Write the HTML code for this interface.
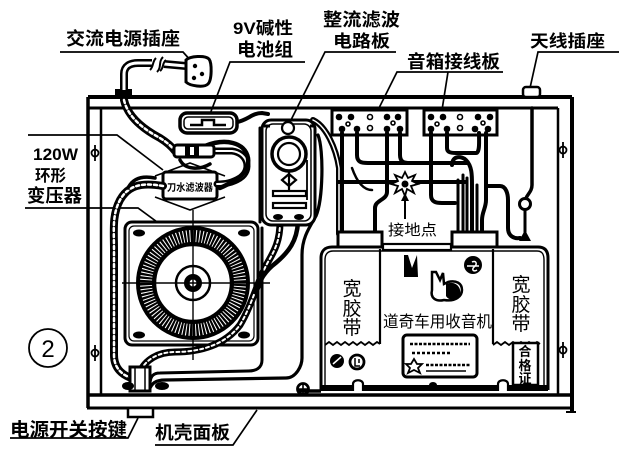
<!DOCTYPE html>
<html><head><meta charset="utf-8">
<style>
html,body{margin:0;padding:0;background:#fff;}
svg{display:block;}
text{font-family:"Liberation Sans","Noto Sans CJK SC",sans-serif;font-weight:bold;fill:#000;}
</style></head>
<body>
<svg width="619" height="454" viewBox="0 0 619 454" xmlns="http://www.w3.org/2000/svg">
<rect width="619" height="454" fill="#fff"/>

<!-- ===== Labels ===== -->
<text x="66" y="45" font-size="18" textLength="114" lengthAdjust="spacingAndGlyphs">交流电源插座</text>
<text x="233" y="34" font-size="17" textLength="60" lengthAdjust="spacingAndGlyphs">9V碱性</text>
<text x="237" y="56" font-size="18" textLength="56" lengthAdjust="spacingAndGlyphs">电池组</text>
<text x="323" y="26" font-size="18" textLength="77" lengthAdjust="spacingAndGlyphs">整流滤波</text>
<text x="333" y="47" font-size="17" textLength="57" lengthAdjust="spacingAndGlyphs">电路板</text>
<text x="407" y="68" font-size="18" textLength="93" lengthAdjust="spacingAndGlyphs">音箱接线板</text>
<text x="530" y="47" font-size="17" textLength="75" lengthAdjust="spacingAndGlyphs">天线插座</text>
<text x="33" y="160" font-size="17" textLength="45" lengthAdjust="spacingAndGlyphs">120W</text>
<text x="35" y="181" font-size="16" textLength="31" lengthAdjust="spacingAndGlyphs">环形</text>
<text x="27" y="202" font-size="18" textLength="55" lengthAdjust="spacingAndGlyphs">变压器</text>
<text x="10" y="436" font-size="19" textLength="117" lengthAdjust="spacingAndGlyphs">电源开关按键</text>
<text x="155" y="439" font-size="18" textLength="75" lengthAdjust="spacingAndGlyphs">机壳面板</text>

<!-- ② -->
<circle cx="48" cy="348" r="19" fill="none" stroke="#000" stroke-width="1.8"/>
<text x="48" y="357" font-size="24" text-anchor="middle" style="font-weight:normal">2</text>

<!-- ===== Leader lines ===== -->
<g fill="none" stroke="#000" stroke-width="1.7">
  <path d="M60,52 L183,52 L192,62"/>
  <path d="M305,62 L230,62 L210,114"/>
  <path d="M396,52 L325,52 L290,122"/>
  <path d="M503,72 L397,72 L378,110"/>
  <path d="M448,72 L442,110"/>
  <path d="M619,52 L538,52 L530,88"/>
  <path d="M28,135 L117,135 L163,170"/>
  <path d="M25,208 L138,208 L168,230"/>
  <path d="M10,438 L128,438 L138,418"/>
  <path d="M155,445 L233,445 L257,410"/>
</g>

<!-- ===== Plug & cord ===== -->
<rect x="115" y="89" width="17" height="8" fill="#000"/>
<path d="M124,90 L124,74 C124,66 130,63 138,63 L152,63" fill="none" stroke="#000" stroke-width="8"/>
<path d="M124,90 L124,74 C124,66 130,63 138,63 L152,63" fill="none" stroke="#fff" stroke-width="3"/>
<path d="M164,64 L186,66" fill="none" stroke="#000" stroke-width="8"/>
<path d="M164,64 L186,66" fill="none" stroke="#fff" stroke-width="3"/>
<path d="M150,70 C154,66 152,62 156,58 M157,72 C162,67 158,62 163,57 M160,71 C164,68 162,63 166,60" fill="none" stroke="#000" stroke-width="2"/>
<path d="M186,60 C190,56 205,55 209,59 C212,63 212,80 208,84 C204,88 190,86 186,82 Z" fill="#fff" stroke="#000" stroke-width="3"/>
<circle cx="195" cy="66" r="2.2" fill="#000"/><circle cx="202" cy="74" r="2.2" fill="#000"/><circle cx="194" cy="78" r="2.2" fill="#000"/>

<!-- ===== Chassis frame ===== -->
<g fill="none" stroke="#000">
  <path d="M88,97 L572,97" stroke-width="4"/>
  <path d="M88,97 L88,408" stroke-width="3.5"/>
  <path d="M572,97 L572,412" stroke-width="4"/>
  <path d="M88,108 L558,108" stroke-width="3"/>
  <path d="M101,108 L101,395" stroke-width="2.5"/>
  <path d="M558,108 L558,395" stroke-width="2.5"/>
  <path d="M88,395 L572,395" stroke-width="3.5"/>
  <path d="M87,408 L572,408" stroke-width="3"/>
  <path d="M566,412 L576,412" stroke-width="2"/>
</g>
<!-- antenna socket -->
<rect x="523" y="87" width="17" height="10" rx="3" fill="#fff" stroke="#000" stroke-width="2.5"/>
<!-- switch button below panel -->
<rect x="128" y="408" width="25" height="9" fill="#fff" stroke="#000" stroke-width="2.5"/>
<!-- bolts on side -->
<g stroke="#000" stroke-width="1.8" fill="#fff">
  <circle cx="95" cy="153" r="3.5"/><path d="M95,145 L95,161"/>
  <circle cx="95" cy="353" r="3.5"/><path d="M95,345 L95,361"/>
  <circle cx="563" cy="150" r="3.5"/><path d="M563,142 L563,158"/>
  <circle cx="563" cy="350" r="3.5"/><path d="M563,342 L563,358"/>
</g>

<!-- ===== Transformer ===== -->
<rect x="125" y="222" width="133" height="123" rx="7" fill="#fff" stroke="#000" stroke-width="3"/>
<rect x="129" y="226" width="125" height="115" rx="5" fill="none" stroke="#000" stroke-width="1.2"/>
<g fill="#000">
  <ellipse cx="139" cy="233" rx="6" ry="3.5"/><ellipse cx="244" cy="233" rx="6" ry="3.5"/>
  <ellipse cx="139" cy="335" rx="6" ry="3.5"/><ellipse cx="244" cy="335" rx="6" ry="3.5"/>
</g>
<circle cx="193" cy="283" r="47" fill="none" stroke="#000" stroke-width="20"/>
<circle cx="193" cy="283" r="47" fill="none" stroke="#fff" stroke-width="12" stroke-dasharray="1 2.2"/>
<circle cx="193" cy="283" r="38" fill="#fff" stroke="#000" stroke-width="2.5"/>
<circle cx="193" cy="283" r="17" fill="none" stroke="#000" stroke-width="2.5"/>
<circle cx="193" cy="283" r="9" fill="#000"/>
<circle cx="193" cy="283" r="3.5" fill="#fff"/>
<path d="M122,283 L270,283 M193,210 L193,360" stroke="#000" stroke-width="1.4" fill="none"/>

<!-- ===== Filter box ===== -->
<path d="M155,176 L190,163 L225,176 M155,197 L190,210 L225,197" fill="none" stroke="#000" stroke-width="1.6"/>
<rect x="163" y="172" width="54" height="27" rx="3" fill="#fff" stroke="#000" stroke-width="3"/>
<text x="190" y="191" font-size="10" text-anchor="middle" textLength="46" lengthAdjust="spacingAndGlyphs">刀水滤波器</text>

<!-- ===== Wires left section ===== -->
<g fill="none" stroke="#000" stroke-linecap="round">
  <path d="M124,100 C128,118 145,130 160,138 C168,143 172,147 175,151" stroke-width="8"/>
  <path d="M124,100 C128,118 145,130 160,138 C168,143 172,147 175,151" stroke="#fff" stroke-width="2.5" stroke-dasharray="3 3"/>
  <path d="M214,151 L232,151 C248,153 252,170 240,178 C232,183 225,184 217,184" stroke-width="7"/>
  <path d="M214,151 L232,151 C248,153 252,170 240,178 C232,183 225,184 217,184" stroke="#fff" stroke-width="2"/>
  <path d="M205,146 C225,138 245,142 248,158 C250,172 238,180 220,188" stroke-width="4.5"/>
  <path d="M180,160 C185,170 200,170 210,164" stroke-width="3.5"/>
  <path d="M237,122 C248,120 252,113 262,113 L268,114" stroke-width="4"/>
  <path d="M163,186 C140,182 128,186 120,200 C112,215 114,230 114,250 L114,355 C114,368 122,376 135,379" stroke-width="8"/>
  <path d="M163,186 C140,182 128,186 120,200 C112,215 114,230 114,250 L114,355 C114,368 122,376 135,379" stroke="#fff" stroke-width="2.5" stroke-dasharray="3 3"/>
  <path d="M155,178 C140,175 132,180 128,188" stroke-width="3.5"/>
  <path d="M280,222 C280,240 275,250 268,262 C258,280 252,305 240,325 C225,345 200,352 175,352 C158,352 145,360 140,372" stroke-width="7"/>
  <path d="M280,222 C280,240 275,250 268,262 C258,280 252,305 240,325 C225,345 200,352 175,352 C158,352 145,360 140,372" stroke="#fff" stroke-width="2" stroke-dasharray="3 3"/>
  <path d="M298,222 C297,240 290,252 272,266 C262,275 258,285 255,292" stroke-width="4.5"/>
  <path d="M262,228 L262,360 C262,368 256,371 248,371 L160,373 C152,373 150,378 150,384" stroke-width="3"/>
  <path d="M318,135 C324,150 323,200 316,216 C309,228 302,238 302,255 L302,358 C302,366 296,378 286,378 L165,380 C155,380 152,384 150,388" stroke-width="3.2"/>
  <path d="M313,120 C326,126 336,148 339,168 L339,234" stroke-width="6"/>
  <path d="M313,120 C326,126 336,148 339,168 L339,234" stroke="#fff" stroke-width="1.5"/>
  <path d="M260,128 L260,222" stroke-width="3"/>
</g>
<!-- fuse -->
<rect x="174" y="145" width="40" height="12" rx="3" fill="#fff" stroke="#000" stroke-width="3"/>
<rect x="185" y="145" width="14" height="12" fill="#000"/>
<rect x="190" y="147" width="4" height="8" fill="#fff"/>
<!-- battery holder -->
<rect x="180" y="113" width="57" height="20" rx="7" fill="#fff" stroke="#000" stroke-width="3.5"/>
<rect x="184" y="117" width="49" height="12" rx="4" fill="none" stroke="#000" stroke-width="1.5"/>
<path d="M190,125 L202,125 L202,120 L214,120 L214,125 L226,125" fill="none" stroke="#000" stroke-width="2.5"/>

<!-- switch -->
<rect x="130" y="367" width="20" height="24" fill="#fff" stroke="#000" stroke-width="3"/>
<path d="M135,367 L135,391 M145,367 L145,391" stroke="#000" stroke-width="1.5"/>
<ellipse cx="128" cy="386" rx="6" ry="4" fill="#000"/>
<ellipse cx="162" cy="386" rx="7" ry="4" fill="#000"/>

<!-- ===== Rectifier board ===== -->
<rect x="262" y="120" width="53" height="105" rx="9" fill="#fff" stroke="#000" stroke-width="3"/>
<rect x="266" y="124" width="45" height="97" rx="7" fill="none" stroke="#000" stroke-width="1.5"/>
<circle cx="288" cy="128" r="6" fill="#fff" stroke="#000" stroke-width="2.2"/>
<circle cx="289" cy="154" r="17" fill="none" stroke="#000" stroke-width="3.5"/>
<circle cx="289" cy="154" r="11" fill="#fff" stroke="#000" stroke-width="2.2"/>
<path d="M289,172 L289,190 M282,180 L289,174 L296,180 L289,186 Z" fill="#fff" stroke="#000" stroke-width="2.2"/>
<rect x="273" y="191" width="33" height="5" fill="#fff" stroke="#000" stroke-width="2.2"/>
<rect x="273" y="203" width="33" height="5" fill="#fff" stroke="#000" stroke-width="2.2"/>
<ellipse cx="278" cy="217" rx="5" ry="3" fill="#000"/><ellipse cx="299" cy="217" rx="5" ry="3" fill="#000"/>
<path d="M307,160 L307,200" stroke="#000" stroke-width="1.8"/>
<path d="M264,126 L270,126 M310,126 L314,126" stroke="#000" stroke-width="3"/>

<!-- ===== Speaker boards ===== -->
<g>
  <rect x="332" y="110" width="75" height="25" fill="#fff" stroke="#000" stroke-width="3"/>
  <rect x="424" y="110" width="73" height="25" fill="#fff" stroke="#000" stroke-width="3"/>
  <g fill="#000">
    <circle cx="339" cy="117" r="3.3"/><circle cx="351" cy="117" r="3.3"/><circle cx="387" cy="117" r="3.3"/><circle cx="398" cy="117" r="3.3"/>
    <circle cx="342" cy="129" r="3.3"/><circle cx="357" cy="129" r="3.3"/><circle cx="387" cy="129" r="3.3"/><circle cx="400" cy="129" r="3.3"/>
    <circle cx="431" cy="117" r="3.3"/><circle cx="443" cy="117" r="3.3"/><circle cx="478" cy="117" r="3.3"/><circle cx="490" cy="117" r="3.3"/>
    <circle cx="431" cy="129" r="3.3"/><circle cx="447" cy="129" r="3.3"/><circle cx="475" cy="129" r="3.3"/><circle cx="488" cy="129" r="3.3"/>
  </g>
  <g fill="#fff" stroke="#000" stroke-width="1.6">
    <circle cx="370" cy="117" r="2.5"/><circle cx="348" cy="124" r="2"/><circle cx="370" cy="128" r="2.5"/><circle cx="393" cy="123" r="2"/>
    <circle cx="460" cy="117" r="2.5"/><circle cx="437" cy="124" r="2"/><circle cx="460" cy="128" r="2.5"/><circle cx="483" cy="123" r="2"/>
  </g>
</g>

<!-- ===== Speaker wires ===== -->
<g fill="none" stroke="#000" stroke-linecap="round">
  <path d="M342,133 L342,234" stroke-width="4"/>
  <path d="M357,133 L357,155 C357,162 361,163 368,163 L468,163" stroke-width="4"/>
  <path d="M387,133 L387,192 C387,200 375,200 375,208 L375,234" stroke-width="4"/>
  <path d="M400,133 L400,155 C400,162 404,163 410,163" stroke-width="4"/>
  <path d="M338,182 L465,182" stroke-width="4"/>
  <path d="M352,168 C358,185 365,190 372,190" stroke-width="2.5"/>
  <path d="M431,133 L431,195 C431,202 436,203 442,203 L455,203" stroke-width="4"/>
  <path d="M447,133 L447,148 C447,152 450,153 456,153 L476,153 C480,153 479,140 479,133" stroke-width="4"/>
  <path d="M452,165 C452,155 462,156 466,160 C472,166 472,175 472,185 L472,234" stroke-width="4"/>
  <path d="M458,180 L458,234 M463,175 L463,234 M467,178 L467,234 M477,185 L477,234" stroke-width="3"/>
  <path d="M486,133 L486,200 C486,208 482,212 482,220 L482,234" stroke-width="4"/>
  <path d="M488,186 L500,186 C506,186 508,194 508,200 L508,228 C508,236 514,239 520,238" stroke-width="4"/>
  <path d="M532,108 L532,185 C532,193 525,195 525,203" stroke-width="3.5"/>
  <path d="M525,209 L525,232" stroke-width="3"/>
</g>
<circle cx="525" cy="204" r="5.5" fill="#fff" stroke="#000" stroke-width="3"/>
<path d="M519,241 L525,230 L531,241 Z" fill="#000"/>

<!-- ground star -->
<path d="M405,172 L408,178 L415,175 L412,181 L418,184 L411,186 L414,193 L407,189 L405,196 L402,189 L395,193 L398,186 L391,184 L398,181 L395,175 L402,178 Z" fill="#fff" stroke="#000" stroke-width="1.8"/>
<circle cx="405" cy="184" r="3.5" fill="#000"/>
<path d="M405,219 L405,196" stroke="#000" stroke-width="2"/>
<path d="M401,201 L405,193 L409,201 Z" fill="#000"/>
<text x="388" y="235" font-size="15" textLength="49" lengthAdjust="spacingAndGlyphs" style="font-weight:normal">接地点</text>

<!-- ===== Radio ===== -->
<path d="M321,390 L321,258 C321,251 325,247 332,247 L538,247 C545,247 548,251 548,258 L548,390" fill="#fff" stroke="#000" stroke-width="3"/>
<path d="M325,388 L325,260 C325,254 328,251 333,251 L537,251 C542,251 544,254 544,260 L544,388" fill="none" stroke="#000" stroke-width="1.4"/>
<rect x="338" y="232" width="44" height="15" fill="#fff" stroke="#000" stroke-width="3"/>
<rect x="452" y="232" width="45" height="15" fill="#fff" stroke="#000" stroke-width="3"/>
<rect x="383" y="244" width="68" height="6" fill="#fff" stroke="#000" stroke-width="2.2"/>
<!-- tapes -->
<path d="M380,249 L380,344" stroke="#000" stroke-width="2.2"/>
<path d="M493,249 L493,344" stroke="#000" stroke-width="2.2"/>
<path d="M325,345 l4,-3 l4,3 l4,-3 l4,3 l4,-3 l4,3 l4,-3 l4,3 l4,-3 l4,3 l4,-3 l4,3 l4,-3 l3,2" fill="none" stroke="#000" stroke-width="1.8"/>
<path d="M493,345 l4,-3 l4,3 l4,-3 l4,3 l4,-3 l4,3 l4,-3 l4,3 l4,-3 l4,3 l4,-3 l3,2" fill="none" stroke="#000" stroke-width="1.8"/>
<g font-size="19">
  <text x="352" y="295" text-anchor="middle" style="font-weight:normal">宽</text>
  <text x="352" y="315" text-anchor="middle" style="font-weight:normal">胶</text>
  <text x="352" y="334" text-anchor="middle" style="font-weight:normal">带</text>
  <text x="521" y="291" text-anchor="middle" style="font-weight:normal">宽</text>
  <text x="521" y="311" text-anchor="middle" style="font-weight:normal">胶</text>
  <text x="521" y="330" text-anchor="middle" style="font-weight:normal">带</text>
</g>
<text x="383" y="327" font-size="16" textLength="109" lengthAdjust="spacingAndGlyphs" style="font-weight:normal">道奇车用收音机</text>
<!-- logos -->
<circle cx="473" cy="265" r="9" fill="#000"/>
<path d="M467,266 L479,266 M472,262 C476,260 478,264 474,267 C471,270 474,272 477,270" fill="none" stroke="#fff" stroke-width="1.5"/>
<path d="M404,255 L404,277 L418,277 L417,255 L412,268 L408,255 Z" fill="#000"/>
<path d="M432,272 L432,290 C430,298 436,302 444,300 C456,302 462,296 462,290 C462,283 456,280 448,282 L444,284 L443,273 L440,280 L436,272 Z" fill="#fff" stroke="#000" stroke-width="2.5"/>
<path d="M446,284 C456,280 462,288 460,296 C456,302 448,300 446,296 Z" fill="#000"/>
<!-- nameplate -->
<rect x="403" y="335" width="74" height="42" rx="4" fill="#fff" stroke="#000" stroke-width="3"/>
<path d="M410,344 L470,344" stroke="#000" stroke-width="2.5" stroke-dasharray="3 1.5"/>
<path d="M412,353 L452,353" stroke="#000" stroke-width="2.5" stroke-dasharray="3 2"/>
<path d="M426,365 L470,365" stroke="#000" stroke-width="2.5" stroke-dasharray="3 1.5"/>
<path d="M426,371 L466,371" stroke="#000" stroke-width="1.6"/>
<path d="M414,359 L417,364 L422,364 L418,368 L420,373 L414,370 L408,373 L410,368 L406,364 L411,364 Z" fill="#fff" stroke="#000" stroke-width="1.8"/>
<!-- small circles -->
<circle cx="337" cy="361" r="7" fill="#000"/>
<path d="M333,364 L341,357" stroke="#fff" stroke-width="1.5"/>
<circle cx="357" cy="362" r="7" fill="#fff" stroke="#000" stroke-width="2.8"/>
<path d="M355,358 L355,366 L360,366 M359,359 L359,363" stroke="#000" stroke-width="1.5" fill="none"/>
<!-- 合格证 -->
<rect x="513" y="343" width="25" height="42" fill="#fff" stroke="#000" stroke-width="2.5"/>
<g font-size="13">
  <text x="525" y="356" text-anchor="middle">合</text>
  <text x="525" y="370" text-anchor="middle">格</text>
  <text x="525" y="383" text-anchor="middle">证</text>
</g>
<!-- radio bottom band & feet -->
<rect x="321" y="385" width="227" height="6" fill="#000"/>
<path d="M353,391 L353,384 C353,379 363,379 363,384 L363,391" fill="#fff" stroke="#000" stroke-width="2.2"/>
<path d="M498,391 L498,384 C498,379 508,379 508,384 L508,391" fill="#fff" stroke="#000" stroke-width="2.2"/>
<ellipse cx="433" cy="385" rx="4" ry="3" fill="#000"/>
<circle cx="303" cy="389" r="5.5" fill="#fff" stroke="#000" stroke-width="2.8"/>
<path d="M297,389 L309,389 M303,383 L303,395" stroke="#000" stroke-width="1.6"/>
<path d="M298,391 L321,391" stroke="#000" stroke-width="3.5"/>
</svg>
</body></html>
